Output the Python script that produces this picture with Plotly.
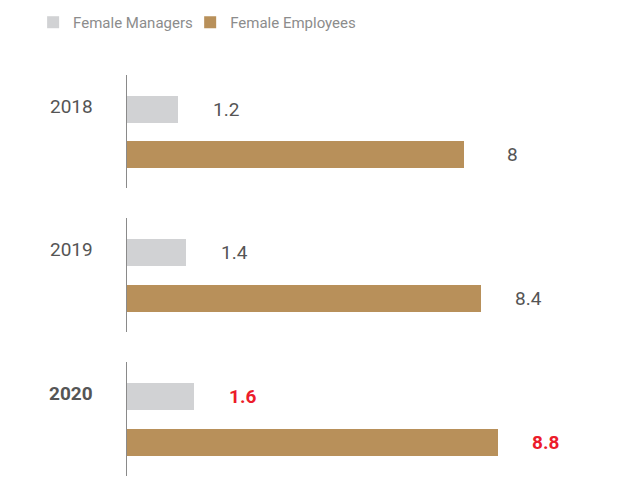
import plotly.graph_objects as go

years = ["2018", "2019", "2020"]
series_names = ["Female Managers", "Female Employees"]
managers = [1.2, 1.4, 1.6]
employees = [8.0, 8.4, 8.8]
highlight_year = "2020"

c_mgr = "#d1d2d4"
c_emp = "#b8905a"
c_txt = "#555555"
c_red = "#ec1c2b"
font_fam = "Roboto, 'Open Sans', sans-serif"

fig = go.Figure()

# page body has an 8px margin, so the figure is 631x487 placed at (8,8)
domains = [[0.7182, 1.0], [0.3591, 0.6434], [0.0, 0.2843]]
cats = ["Female Employees", "Female Managers"]

for i, yr in enumerate(years):
    xa = "x" if i == 0 else f"x{i+1}"
    ya = "y" if i == 0 else f"y{i+1}"
    fig.add_trace(go.Bar(
        y=[series_names[0]], x=[managers[i]], orientation="h",
        marker=dict(color=c_mgr, line=dict(width=0)), width=0.6,
        name=series_names[0], legendgroup="m", showlegend=(i == 0),
        legend="legend", xaxis=xa, yaxis=ya, hoverinfo="skip"))
    fig.add_trace(go.Bar(
        y=[series_names[1]], x=[employees[i]], orientation="h",
        marker=dict(color=c_emp, line=dict(width=0)), width=0.6,
        name=series_names[1], legendgroup="e", showlegend=(i == 0),
        legend="legend2", xaxis=xa, yaxis=ya, hoverinfo="skip"))
    hl = (yr == highlight_year)
    vcol = c_red if hl else c_txt
    for val, cat in ((managers[i], series_names[0]), (employees[i], series_names[1])):
        fig.add_annotation(x=val, y=cat, xref=xa, yref=ya,
                           text=(f"<b>{val:g}</b>" if hl else f"{val:g}"),
                           showarrow=False, xanchor="center", xshift=48,
                           font=dict(family=font_fam, size=19, color=vcol))
    fig.add_annotation(x=-0.062, y=series_names[0], xref="paper", yref=ya,
                       text=(f"<b>{yr}</b>" if hl else yr), showarrow=False,
                       xanchor="right", yshift=3,
                       font=dict(family=font_fam, size=19, color=c_txt))

leg_common = dict(orientation="h", xref="container", yref="paper",
                  y=1.131, xanchor="left", yanchor="middle",
                  font=dict(family=font_fam, size=15, color="#8c8c8c"),
                  itemclick=False, itemdoubleclick=False,
                  bgcolor="rgba(0,0,0,0)")

layout = dict(
    width=631, height=487,
    margin=dict(l=119, r=0, t=67, b=19, autoexpand=False),
    paper_bgcolor="white", plot_bgcolor="white",
    barmode="overlay", bargap=0,
    showlegend=True,
    legend=dict(x=0.0398, **leg_common),
    legend2=dict(x=0.2887, **leg_common),
)
for i in range(3):
    sx = "" if i == 0 else str(i + 1)
    layout[f"xaxis{sx}"] = dict(range=[0, 12.15], visible=False, showgrid=False,
                                zeroline=False, anchor=f"y{sx}", domain=[0, 1])
    layout[f"yaxis{sx}"] = dict(domain=domains[i], type="category",
                                categoryorder="array", categoryarray=cats,
                                range=[-0.744, 1.767], showticklabels=False,
                                ticks="", showgrid=False, zeroline=False,
                                showline=True, linecolor="#8a8a8a", linewidth=1,
                                anchor=f"x{sx}")
fig.update_layout(**layout)

fig.write_html("out.html")
